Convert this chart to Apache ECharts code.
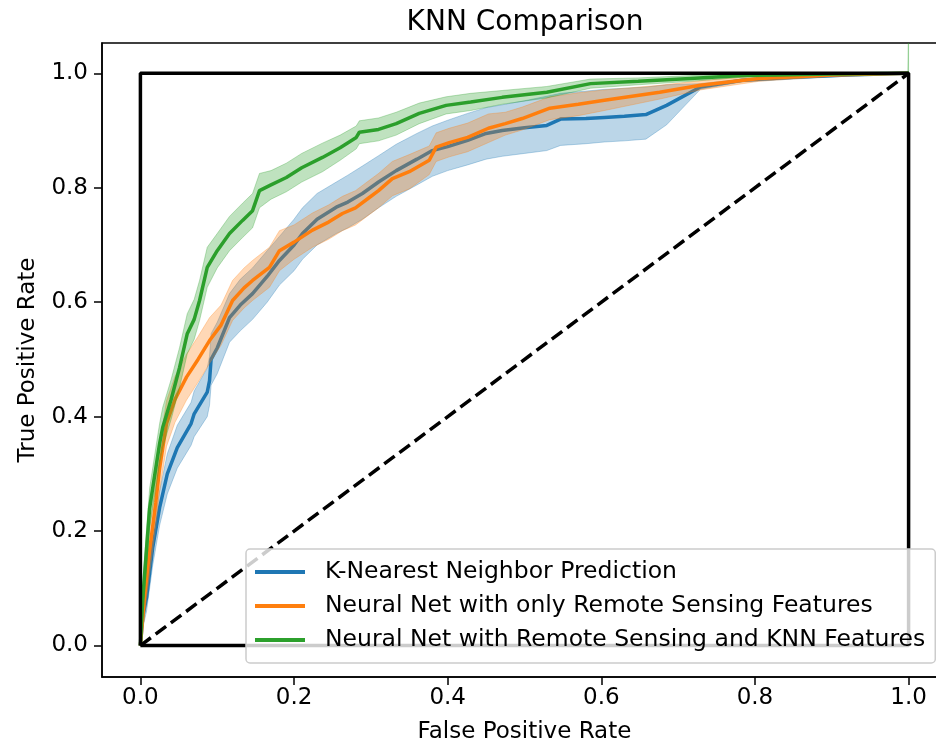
<!DOCTYPE html>
<html lang="en">
<head>
    <meta charset="UTF-8">
    <title>KNN Comparison</title>
    <script src="https://cdn.jsdelivr.net/npm/echarts@6/dist/echarts.min.js"></script>
    <style>
        html, body { margin: 0; padding: 0; background: #fff; }
        #chart { width: 936px; height: 745px; }
    </style>
</head>
<body>
<div id="chart"></div>
<script>
// ticks
const xTicks = [0, 0.2, 0.4, 0.6, 0.8, 1.0];
const yTicks = [0, 0.2, 0.4, 0.6, 0.8, 1.0];

// K-Nearest Neighbor Prediction (mean + band)
const knnX = [0, 0.003, 0.008, 0.016, 0.025, 0.035, 0.048, 0.066, 0.07, 0.087, 0.09, 0.092, 0.1, 0.116, 0.13, 0.146, 0.165, 0.181, 0.2, 0.211, 0.23, 0.255, 0.27, 0.289, 0.31, 0.333, 0.36, 0.38, 0.4, 0.426, 0.45, 0.471, 0.5, 0.529, 0.547, 0.58, 0.604, 0.63, 0.658, 0.685, 0.729, 0.783, 0.85, 0.92, 1.0];
const knnY = [0, 0.05, 0.084, 0.171, 0.241, 0.30, 0.346, 0.388, 0.405, 0.443, 0.463, 0.50, 0.52, 0.573, 0.595, 0.615, 0.645, 0.673, 0.70, 0.72, 0.745, 0.766, 0.775, 0.79, 0.81, 0.83, 0.85, 0.865, 0.872, 0.883, 0.895, 0.90, 0.905, 0.909, 0.92, 0.921, 0.923, 0.925, 0.928, 0.944, 0.976, 0.988, 0.993, 0.997, 1.0];
const knnLo = [0, 0.03, 0.06, 0.14, 0.21, 0.265, 0.31, 0.35, 0.365, 0.40, 0.42, 0.455, 0.475, 0.53, 0.55, 0.57, 0.60, 0.63, 0.655, 0.675, 0.70, 0.72, 0.73, 0.745, 0.765, 0.785, 0.805, 0.82, 0.83, 0.84, 0.85, 0.855, 0.86, 0.865, 0.874, 0.877, 0.88, 0.882, 0.885, 0.91, 0.972, 0.985, 0.99, 0.995, 1.0];
const knnHi = [0, 0.07, 0.11, 0.20, 0.27, 0.335, 0.385, 0.425, 0.445, 0.485, 0.505, 0.545, 0.565, 0.615, 0.64, 0.66, 0.69, 0.715, 0.745, 0.765, 0.79, 0.81, 0.822, 0.838, 0.856, 0.876, 0.895, 0.908, 0.918, 0.93, 0.94, 0.945, 0.952, 0.96, 0.965, 0.969, 0.972, 0.974, 0.976, 0.98, 0.982, 0.99, 0.995, 0.998, 1.0];

// Neural Net with only Remote Sensing Features
const rsX = [0, 0.005, 0.012, 0.02, 0.025, 0.034, 0.045, 0.06, 0.075, 0.09, 0.105, 0.12, 0.135, 0.146, 0.168, 0.181, 0.2, 0.224, 0.245, 0.263, 0.28, 0.298, 0.31, 0.328, 0.35, 0.376, 0.385, 0.402, 0.426, 0.453, 0.475, 0.497, 0.533, 0.57, 0.604, 0.64, 0.676, 0.729, 0.805, 0.9, 1.0];
const rsY = [0, 0.08, 0.166, 0.25, 0.31, 0.388, 0.43, 0.469, 0.50, 0.533, 0.56, 0.603, 0.625, 0.638, 0.661, 0.69, 0.705, 0.726, 0.74, 0.755, 0.765, 0.783, 0.795, 0.816, 0.828, 0.848, 0.871, 0.879, 0.888, 0.904, 0.912, 0.921, 0.939, 0.946, 0.953, 0.96, 0.967, 0.979, 0.991, 0.997, 1.0];
const rsLo = [0, 0.05, 0.126, 0.21, 0.27, 0.348, 0.39, 0.429, 0.46, 0.493, 0.525, 0.568, 0.59, 0.603, 0.626, 0.655, 0.675, 0.696, 0.71, 0.725, 0.735, 0.753, 0.765, 0.786, 0.798, 0.823, 0.846, 0.854, 0.863, 0.879, 0.892, 0.901, 0.919, 0.926, 0.935, 0.945, 0.955, 0.971, 0.986, 0.995, 1.0];
const rsHi = [0, 0.11, 0.206, 0.29, 0.35, 0.428, 0.47, 0.509, 0.54, 0.573, 0.595, 0.638, 0.66, 0.673, 0.696, 0.725, 0.735, 0.756, 0.77, 0.785, 0.795, 0.813, 0.825, 0.846, 0.858, 0.873, 0.896, 0.904, 0.913, 0.929, 0.932, 0.941, 0.959, 0.966, 0.971, 0.975, 0.979, 0.987, 0.996, 0.999, 1.0];

// Neural Net with Remote Sensing and KNN Features
const rsKnnX = [0, 0.003, 0.012, 0.02, 0.025, 0.029, 0.04, 0.051, 0.061, 0.07, 0.077, 0.087, 0.1, 0.116, 0.133, 0.146, 0.155, 0.17, 0.19, 0.21, 0.237, 0.26, 0.281, 0.285, 0.31, 0.333, 0.363, 0.398, 0.43, 0.471, 0.529, 0.586, 0.648, 0.716, 0.783, 0.9, 0.999, 1.0];
const rsKnnY = [0, 0.08, 0.24, 0.31, 0.353, 0.381, 0.43, 0.486, 0.545, 0.57, 0.603, 0.661, 0.69, 0.72, 0.743, 0.76, 0.795, 0.805, 0.818, 0.835, 0.853, 0.87, 0.888, 0.897, 0.902, 0.912, 0.93, 0.944, 0.95, 0.958, 0.967, 0.982, 0.986, 0.991, 0.996, 0.999, 1.0, 1.0];
const rsKnnLo = [0, 0.05, 0.205, 0.275, 0.318, 0.346, 0.395, 0.451, 0.51, 0.535, 0.568, 0.626, 0.66, 0.69, 0.713, 0.73, 0.765, 0.78, 0.793, 0.81, 0.828, 0.848, 0.868, 0.877, 0.882, 0.892, 0.912, 0.929, 0.935, 0.946, 0.957, 0.974, 0.98, 0.986, 0.993, 0.998, 1.0, 1.0];
const rsKnnHi = [0, 0.11, 0.275, 0.345, 0.388, 0.416, 0.465, 0.521, 0.58, 0.605, 0.638, 0.696, 0.72, 0.75, 0.773, 0.79, 0.825, 0.83, 0.843, 0.86, 0.878, 0.892, 0.908, 0.917, 0.922, 0.932, 0.948, 0.959, 0.965, 0.97, 0.977, 0.99, 0.992, 0.996, 0.999, 1.0, 1.0, 1.1];

// reference lines
const perfectX = [0, 0, 1, 1, 0];
const perfectY = [0, 1, 1, 0, 0];
const chanceX = [0, 1];
const chanceY = [0, 1];

const font = 'DejaVu Sans';

function pairs(xs, ys) {
    return xs.map((x, i) => [x, ys[i]]);
}

function meanLine(name, xs, ys, color, z) {
    return {
        name: name,
        type: 'line',
        z: z,
        data: pairs(xs, ys),
        color: color,
        showSymbol: false,
        symbol: 'none',
        lineStyle: { color: color, width: 3.5 },
        clip: true
    };
}

function band(name, xs, lo, hi, rgb, z) {
    return {
        name: name,
        type: 'custom',
        z: z,
        silent: true,
        clip: true,
        data: [[xs[0], lo[0]]],
        renderItem: function (params, api) {
            const pts = [];
            for (let i = 0; i < xs.length; i++) pts.push(api.coord([xs[i], hi[i]]));
            for (let i = xs.length - 1; i >= 0; i--) pts.push(api.coord([xs[i], lo[i]]));
            return {
                type: 'polygon',
                shape: { points: pts },
                style: {
                    fill: 'rgba(' + rgb + ',0.3)',
                    stroke: 'rgba(' + rgb + ',0.3)',
                    lineWidth: 1
                }
            };
        }
    };
}

const names = [
    'K-Nearest Neighbor Prediction',
    'Neural Net with only Remote Sensing Features',
    'Neural Net with Remote Sensing and KNN Features'
];

const chart = echarts.init(document.getElementById('chart'));
chart.setOption({
    animation: false,
    backgroundColor: '#fff',
    title: {
        text: 'KNN Comparison',
        left: 520,
        textAlign: 'center',
        top: 4,
        textStyle: { fontFamily: font, fontSize: 28, fontWeight: 'normal', color: '#000' }
    },
    grid: {
        left: 102, top: 43, width: 845, height: 634,
        outerBoundsMode: 'none',
        containLabel: false,
        show: true, borderColor: '#000', borderWidth: 1.5,
        backgroundColor: 'transparent'
    },
    legend: {
        data: names,
        orient: 'vertical',
        left: 246,
        top: 549,
        z: 20,
        padding: [11, 10, 11, 9],
        itemWidth: 50,
        itemHeight: 4,
        itemGap: 10,
        icon: 'rect',
        selectedMode: false,
        backgroundColor: 'rgba(255,255,255,0.8)',
        borderColor: '#cccccc',
        borderWidth: 1.5,
        borderRadius: 4,
        textStyle: { fontFamily: font, fontSize: 23.5, lineHeight: 24, color: '#000', padding: [0, 0, 0, 15] }
    },
    xAxis: {
        type: 'value',
        min: -0.05,
        max: 1.05,
        splitLine: { show: false },
        axisLine: { show: true, onZero: false, lineStyle: { color: '#000', width: 1.5 } },
        axisTick: { show: true, customValues: xTicks, length: 8, lineStyle: { color: '#000', width: 1.5 } },
        axisLabel: {
            customValues: xTicks,
            formatter: v => v.toFixed(1),
            fontFamily: font, fontSize: 23, color: '#000', margin: 10
        },
        name: 'False Positive Rate',
        nameLocation: 'middle',
        nameGap: 44,
        nameTextStyle: { fontFamily: font, fontSize: 23, color: '#000' }
    },
    yAxis: {
        type: 'value',
        min: -0.055,
        max: 1.053,
        splitLine: { show: false },
        axisLine: { show: true, onZero: false, lineStyle: { color: '#000', width: 1.5 } },
        axisTick: { show: true, customValues: yTicks, length: 8, lineStyle: { color: '#000', width: 1.5 } },
        axisLabel: {
            customValues: yTicks,
            formatter: v => v.toFixed(1),
            fontFamily: font, fontSize: 23, color: '#000', margin: 14
        },
        name: 'True Positive Rate',
        nameLocation: 'middle',
        nameGap: 62,
        nameTextStyle: { fontFamily: font, fontSize: 23, color: '#000' }
    },
    series: [
        meanLine(names[0], knnX, knnY, '#1f77b4', 2),
        band('knnBand', knnX, knnLo, knnHi, '31,119,180', 3),
        meanLine(names[1], rsX, rsY, '#ff7f0e', 4),
        band('rsBand', rsX, rsLo, rsHi, '255,127,14', 5),
        meanLine(names[2], rsKnnX, rsKnnY, '#2ca02c', 6),
        band('rsKnnBand', rsKnnX, rsKnnLo, rsKnnHi, '44,160,44', 7),
        {
            name: 'perfect',
            type: 'line',
            z: 8,
            data: pairs(perfectX, perfectY),
            showSymbol: false,
            symbol: 'none',
            lineStyle: { color: '#000', width: 3.5 }
        },
        {
            name: 'chance',
            type: 'line',
            z: 8,
            data: pairs(chanceX, chanceY),
            showSymbol: false,
            symbol: 'none',
            lineStyle: { color: '#000', width: 3.5, type: [13, 6] }
        }
    ]
});
</script>
</body>
</html>
